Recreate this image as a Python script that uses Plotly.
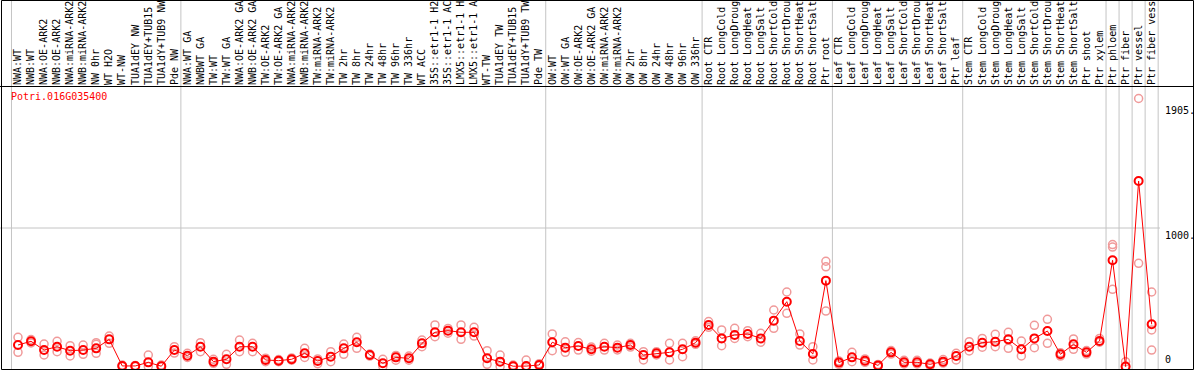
import plotly.graph_objects as go

# ---------------- data ----------------
labels = [
    "NWA:WT", "NWB:WT", "NWA:OE-ARK2", "NWB:OE-ARK2", "NWA:miRNA-ARK2", "NWB:miRNA-ARK2",
    "NW 0hr", "WT H2O", "WT-NW", "TUA1dEY NW", "TUA1dEY+TUB15 NW", "TUA1dY+TUB9 NW", "Pde NW",
    "NWA:WT GA", "NWBWT GA", "TW:WT", "TW:WT GA", "NWA:OE-ARK2 GA", "NWB:OE-ARK2 GA",
    "TW:OE-ARK2", "TW:OE-ARK2 GA", "NWA:miRNA-ARK2 GA", "NWB:miRNA-ARK2 GA", "TW:miRNA-ARK2",
    "TW:miRNA-ARK2 GA", "TW 2hr", "TW 8hr", "TW 24hr", "TW 48hr", "TW 96hr", "TW 336hr",
    "WT ACC", "35S::etr1-1 H2O", "35S::etr1-1 ACC", "LMX5::etr1-1 H2O", "LMX5::etr1-1 ACC",
    "WT-TW", "TUA1dEY TW", "TUA1dEY+TUB15 TW", "TUA1dY+TUB9 TW", "Pde TW",
    "OW:WT", "OW:WT GA", "OW:OE-ARK2", "OW:OE-ARK2 GA", "OW:miRNA-ARK2", "OW:miRNA-ARK2 GA",
    "OW 2hr", "OW 8hr", "OW 24hr", "OW 48hr", "OW 96hr", "OW 336hr",
    "Root CTR", "Root LongCold", "Root LongDrought", "Root LongHeat", "Root LongSalt",
    "Root ShortCold", "Root ShortDrought", "Root ShortHeat", "Root ShortSalt", "Ptr root",
    "Leaf CTR", "Leaf LongCold", "Leaf LongDrought", "Leaf LongHeat", "Leaf LongSalt",
    "Leaf ShortCold", "Leaf ShortDrought", "Leaf ShortHeat", "Leaf ShortSalt", "Ptr leaf",
    "Stem CTR", "Stem LongCold", "Stem LongDrought", "Stem LongHeat", "Stem LongSalt",
    "Stem ShortCold", "Stem ShortDrought", "Stem ShortHeat", "Stem ShortSalt", "Ptr shoot",
    "Ptr xylem", "Ptr phloem", "Ptr fiber", "Ptr vessel", "Ptr fiber vessel",
]

means = [
    155, 182, 119, 143, 114, 119, 131, 196, 4, 4, 30, 2, 119,
    78, 143, 35, 52, 143, 143, 47, 42, 52, 95, 40, 71, 131, 175, 83, 23, 66, 59,
    167, 247, 259, 247, 247, 59, 35, 2, 3, 11,
    175, 136, 148, 124, 143, 136, 155, 83, 95, 102, 124, 172,
    300, 203, 227, 235, 203, 331, 468, 184, 90, 620,
    28, 66, 42, 8, 102, 30, 30, 16, 35, 76,
    143, 172, 179, 196, 124, 203, 256, 88, 160, 102,
    184, 767, 0, 1339, 305,
]

replicates = [
    [211, 102], [195, 170], [162, 83], [182, 107], [150, 76], [155, 88], [172, 95, 160],
    [220, 167], [0, 10], [0, 8], [83, 0], [10, 0], [143, 97],
    [95, 65], [172, 107], [52, 23], [88, 16], [191, 107], [167, 107], [60, 35], [50, 35],
    [62, 45], [131, 65], [55, 20], [107, 35], [162, 88], [211, 131], [90, 75], [52, 0],
    [80, 45], [75, 45],
    [191, 143], [300, 215], [275, 240], [300, 196], [283, 220], [114, 16], [83, 0],
    [10, 0], [47, 0], [20, 5],
    [235, 114], [178, 102], [173, 119], [140, 110], [167, 119], [155, 120], [167, 140],
    [107, 47], [107, 83], [167, 47], [167, 71], [185, 160],
    [324, 283], [264, 150], [276, 203], [259, 215], [240, 175], [408, 276], [538, 384],
    [235, 155], [143, 47], [760, 720, 400],
    [40, 15], [102, 35], [55, 30], [15, 0], [115, 90], [45, 18], [45, 18], [25, 5],
    [50, 25], [95, 47],
    [179, 112], [203, 139], [232, 143], [247, 131], [184, 76], [297, 136], [341, 167],
    [100, 75], [199, 124], [115, 90],
    [203, 175], [880, 862, 557], [35, 0], [1935, 745], [538, 264, 119],
]

group_breaks = [-0.5, 12.5, 40.5, 52.5, 62.5, 72.5, 83.5, 84.5, 85.5, 86.5, 87.5]
y_labels = [(1905, "1905.", "top"), (1000, "1000.", "top"), (0, "0", "bottom")]
grid_values = [1000]
gene = "Potri.016G035400"

# ---------------- layout geometry ----------------
W, H = 1194, 370
TOP = 86
PLOT_H = H - TOP
FONT = "DejaVu Sans Mono"
X_RANGE = [-1.381, 90.25]
Y_RANGE = [-25.3, 2025.3]


def px_x(p):
    return p / W


def px_y(p):
    return (H - p) / PLOT_H


x_idx = list(range(len(labels)))
rep_x, rep_y = [], []
for i, rs in enumerate(replicates):
    for v in rs:
        rep_x.append(x_idx[i])
        rep_y.append(v)

fig = go.Figure()
fig.add_trace(go.Scatter(
    x=rep_x, y=rep_y, mode="markers",
    marker=dict(symbol="circle-open", size=8, color="#f09a9a", line=dict(width=1.5)),
    hoverinfo="skip", cliponaxis=False,
))
fig.add_trace(go.Scatter(
    x=x_idx, y=means, mode="lines+markers",
    line=dict(color="#ff0000", width=1),
    marker=dict(symbol="circle-open", size=8, color="#ff0000", line=dict(width=2)),
    cliponaxis=False,
))

shapes = []
for b in group_breaks:
    shapes.append(dict(type="line", xref="x", yref="paper", x0=b, x1=b,
                       y0=0, y1=px_y(0), line=dict(color="#c4c4c4", width=1), layer="below"))
for g in grid_values:
    shapes.append(dict(type="line", xref="paper", yref="y", x0=0, x1=px_x(1160),
                       y0=g, y1=g, line=dict(color="#c4c4c4", width=1), layer="below"))
# frame
shapes.append(dict(type="line", xref="paper", yref="paper", x0=0, x1=1,
                   y0=px_y(86.5), y1=px_y(86.5), line=dict(color="black", width=1)))
shapes.append(dict(type="rect", xref="paper", yref="paper", x0=px_x(1.5), x1=px_x(1193.5),
                   y0=px_y(369.5), y1=px_y(0.5), line=dict(color="black", width=1)))

annotations = [dict(text=gene, xref="paper", yref="paper", x=px_x(9), y=px_y(97),
                    xanchor="left", yanchor="middle", showarrow=False,
                    font=dict(family=FONT, size=10, color="#ff0000"))]
for v, t, anc in y_labels:
    annotations.append(dict(text=t, xref="paper", yref="y", x=px_x(1163), y=v,
                            xanchor="left", yanchor=anc, showarrow=False,
                            font=dict(family=FONT, size=10, color="black")))

fig.update_layout(
    width=W, height=H, margin=dict(l=0, r=0, t=TOP, b=0, pad=0),
    paper_bgcolor="white", plot_bgcolor="white", showlegend=False,
    xaxis=dict(range=X_RANGE, side="top", tickmode="array", tickvals=x_idx, ticktext=labels,
               tickangle=-90, tickfont=dict(family=FONT, size=10, color="black"),
               showgrid=False, zeroline=False, showline=False, ticks="", automargin=False),
    yaxis=dict(range=Y_RANGE, showgrid=False, zeroline=False, showticklabels=False,
               ticks="", automargin=False),
    shapes=shapes, annotations=annotations,
)

fig.write_html("out.html", config={"displayModeBar": False},
               post_script="document.body.style.margin='0';document.body.style.overflow='hidden';")
